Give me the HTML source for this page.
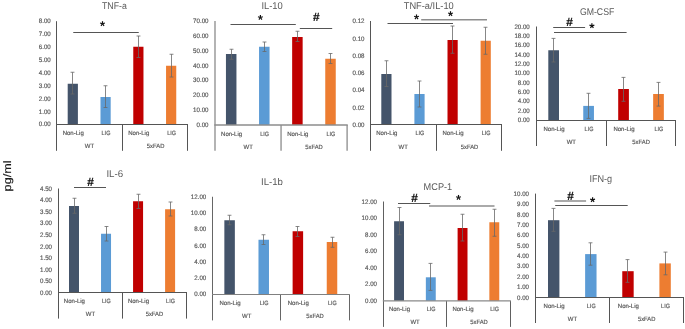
<!DOCTYPE html>
<html><head><meta charset="utf-8"><title>Cytokine panels</title>
<style>
html,body{margin:0;padding:0;background:#fff;}
body{width:685px;height:329px;overflow:hidden;font-family:"Liberation Sans",sans-serif;}
text{text-rendering:geometricPrecision;}
svg{display:block;font-family:"Liberation Sans",sans-serif;will-change:transform;}
</style></head><body>
<svg width="685" height="329" viewBox="0 0 685 329">
<text transform="translate(10.9 191.4) rotate(-90)" font-size="10.8" fill="#1a1a1a" textLength="31" lengthAdjust="spacingAndGlyphs" stroke="#1a1a1a" stroke-width="0.15">pg/ml</text>
<g><rect x="67.7" y="83.75" width="10.2" height="40.75" fill="#44546A"/>
<rect x="100.48" y="97" width="10.2" height="27.5" fill="#5B9BD5"/>
<rect x="133.27" y="46.75" width="10.2" height="77.75" fill="#C00000"/>
<rect x="166.05" y="65.75" width="10.2" height="58.75" fill="#ED7D31"/>
<path d="M72.5 72.25V94M70.55 72.25H74.45M70.55 94H74.45M105.5 85.75V107.5M103.55 85.75H107.45M103.55 107.5H107.45M138.5 36V57.5M136.55 36H140.45M136.55 57.5H140.45M171.5 54.25V77M169.55 54.25H173.45M169.55 77H173.45" stroke="#686868" stroke-width="0.8" fill="none"/>
<path d="M56.5 21.2V150.8M122.5 124.5V150.8M187.5 124.5V150.8" stroke="#555555" stroke-width="1.0" fill="none"/>
<path d="M56 124.5H188" stroke="#555555" stroke-width="1.0" fill="none"/>
<g font-size="6.4" text-anchor="end" fill="#595959" stroke="#595959" stroke-width="0.18"><text x="50.8" y="23.05" textLength="11.97" lengthAdjust="spacingAndGlyphs">8.00</text><text x="50.8" y="36" textLength="11.97" lengthAdjust="spacingAndGlyphs">7.00</text><text x="50.8" y="48.9" textLength="11.97" lengthAdjust="spacingAndGlyphs">6.00</text><text x="50.8" y="61.8" textLength="11.97" lengthAdjust="spacingAndGlyphs">5.00</text><text x="50.8" y="74.8" textLength="11.97" lengthAdjust="spacingAndGlyphs">4.00</text><text x="50.8" y="87.7" textLength="11.97" lengthAdjust="spacingAndGlyphs">3.00</text><text x="50.8" y="100.6" textLength="11.97" lengthAdjust="spacingAndGlyphs">2.00</text><text x="50.8" y="113.5" textLength="11.97" lengthAdjust="spacingAndGlyphs">1.00</text><text x="50.8" y="126.4" textLength="11.97" lengthAdjust="spacingAndGlyphs">0.00</text></g>
<g font-size="6.2" text-anchor="middle" fill="#595959" stroke="#595959" stroke-width="0.18"><text x="73.2" y="135.3" textLength="21.09" lengthAdjust="spacingAndGlyphs">Non-Lig</text><text x="105.98" y="135.3" textLength="8.8" lengthAdjust="spacingAndGlyphs">LIG</text><text x="138.77" y="135.3" textLength="21.09" lengthAdjust="spacingAndGlyphs">Non-Lig</text><text x="171.55" y="135.3" textLength="8.8" lengthAdjust="spacingAndGlyphs">LIG</text><text x="89.5" y="148.2" textLength="9.29" lengthAdjust="spacingAndGlyphs">WT</text><text x="155.6" y="148.2" textLength="17.5" lengthAdjust="spacingAndGlyphs">5xFAD</text></g>
<text x="114.4" y="9" font-size="9.8" text-anchor="middle" fill="#595959" textLength="24.8" lengthAdjust="spacingAndGlyphs" style="text-rendering:geometricPrecision">TNF-a</text>
<line x1="73.25" y1="32.5" x2="138.75" y2="32.5" stroke="#555555" stroke-width="1.0"/>
<g stroke="#111" stroke-width="1.2" stroke-linecap="butt"><line x1="102.5" y1="23.75" x2="102.5" y2="21.2"/><line x1="102.5" y1="23.75" x2="104.93" y2="22.96"/><line x1="102.5" y1="23.75" x2="104" y2="25.81"/><line x1="102.5" y1="23.75" x2="101" y2="25.81"/><line x1="102.5" y1="23.75" x2="100.07" y2="22.96"/></g></g>
<g><rect x="225.95" y="54" width="10.5" height="71" fill="#44546A"/>
<rect x="259.05" y="46.75" width="10.5" height="78.25" fill="#5B9BD5"/>
<rect x="292.15" y="37" width="10.5" height="88" fill="#C00000"/>
<rect x="325.25" y="58.75" width="10.5" height="66.25" fill="#ED7D31"/>
<path d="M231.5 49.25V59.25M229.55 49.25H233.45M229.55 59.25H233.45M264.5 42V51.5M262.55 42H266.45M262.55 51.5H266.45M297.5 31.25V41.5M295.55 31.25H299.45M295.55 41.5H299.45M330.5 53.5V63.5M328.55 53.5H332.45M328.55 63.5H332.45" stroke="#686868" stroke-width="0.8" fill="none"/>
<path d="M215 21V150.8M281.05 125V150.8M347.1 125V150.8" stroke="#8c8c8c" stroke-width="1.3" fill="none"/>
<path d="M214.35 125H347.75" stroke="#8c8c8c" stroke-width="1.3" fill="none"/>
<g font-size="6.4" text-anchor="end" fill="#595959" stroke="#595959" stroke-width="0.18"><text x="208.5" y="23.05" textLength="15.39" lengthAdjust="spacingAndGlyphs">70.00</text><text x="208.5" y="37.9" textLength="15.39" lengthAdjust="spacingAndGlyphs">60.00</text><text x="208.5" y="52.7" textLength="15.39" lengthAdjust="spacingAndGlyphs">50.00</text><text x="208.5" y="67.5" textLength="15.39" lengthAdjust="spacingAndGlyphs">40.00</text><text x="208.5" y="82.3" textLength="15.39" lengthAdjust="spacingAndGlyphs">30.00</text><text x="208.5" y="97.1" textLength="15.39" lengthAdjust="spacingAndGlyphs">20.00</text><text x="208.5" y="111.9" textLength="15.39" lengthAdjust="spacingAndGlyphs">10.00</text><text x="208.5" y="126.8" textLength="11.97" lengthAdjust="spacingAndGlyphs">0.00</text></g>
<g font-size="6.2" text-anchor="middle" fill="#595959" stroke="#595959" stroke-width="0.18"><text x="231.6" y="135.5" textLength="21.09" lengthAdjust="spacingAndGlyphs">Non-Lig</text><text x="264.7" y="135.5" textLength="8.8" lengthAdjust="spacingAndGlyphs">LIG</text><text x="297.8" y="135.5" textLength="21.09" lengthAdjust="spacingAndGlyphs">Non-Lig</text><text x="330.9" y="135.5" textLength="8.8" lengthAdjust="spacingAndGlyphs">LIG</text><text x="248.25" y="148.5" textLength="9.29" lengthAdjust="spacingAndGlyphs">WT</text><text x="314" y="148.5" textLength="17.5" lengthAdjust="spacingAndGlyphs">5xFAD</text></g>
<text x="272.1" y="9" font-size="9.8" text-anchor="middle" fill="#595959" textLength="21.4" lengthAdjust="spacingAndGlyphs" style="text-rendering:geometricPrecision">IL-10</text>
<line x1="230.5" y1="24.5" x2="295.8" y2="24.5" stroke="#555555" stroke-width="1.0"/>
<g stroke="#111" stroke-width="1.2" stroke-linecap="butt"><line x1="260.4" y1="17.5" x2="260.4" y2="14.95"/><line x1="260.4" y1="17.5" x2="262.83" y2="16.71"/><line x1="260.4" y1="17.5" x2="261.9" y2="19.56"/><line x1="260.4" y1="17.5" x2="258.9" y2="19.56"/><line x1="260.4" y1="17.5" x2="257.97" y2="16.71"/></g>
<line x1="299.8" y1="28.5" x2="332.2" y2="28.5" stroke="#555555" stroke-width="1.0"/>
<text x="316.3" y="21.45" font-size="11.8" font-weight="700" fill="#111" stroke="#111" stroke-width="0.2" text-anchor="middle">#</text></g>
<g><rect x="381.3" y="74" width="10.2" height="50.5" fill="#44546A"/>
<rect x="414.4" y="94" width="10.2" height="30.5" fill="#5B9BD5"/>
<rect x="447.5" y="40" width="10.2" height="84.5" fill="#C00000"/>
<rect x="480.6" y="40.75" width="10.2" height="83.75" fill="#ED7D31"/>
<path d="M386.5 60.75V86.5M384.55 60.75H388.45M384.55 86.5H388.45M419.5 81V107M417.55 81H421.45M417.55 107H421.45M452.5 26V53.25M450.55 26H454.45M450.55 53.25H454.45M485.5 27.25V54.25M483.55 27.25H487.45M483.55 54.25H487.45" stroke="#686868" stroke-width="0.8" fill="none"/>
<path d="M370.5 21V150.8M436.5 124.7V150.8M501.5 124.7V150.8" stroke="#555555" stroke-width="1.0" fill="none"/>
<path d="M370 124.5H502" stroke="#555555" stroke-width="1.0" fill="none"/>
<g font-size="6.4" text-anchor="end" fill="#595959" stroke="#595959" stroke-width="0.18"><text x="364.5" y="23.3" textLength="11.97" lengthAdjust="spacingAndGlyphs">0.12</text><text x="364.5" y="40.5" textLength="11.97" lengthAdjust="spacingAndGlyphs">0.10</text><text x="364.5" y="57.8" textLength="11.97" lengthAdjust="spacingAndGlyphs">0.08</text><text x="364.5" y="75" textLength="11.97" lengthAdjust="spacingAndGlyphs">0.06</text><text x="364.5" y="92.3" textLength="11.97" lengthAdjust="spacingAndGlyphs">0.04</text><text x="364.5" y="109.5" textLength="11.97" lengthAdjust="spacingAndGlyphs">0.02</text><text x="364.5" y="126.8" textLength="11.97" lengthAdjust="spacingAndGlyphs">0.00</text></g>
<g font-size="6.2" text-anchor="middle" fill="#595959" stroke="#595959" stroke-width="0.18"><text x="386.8" y="135.3" textLength="21.09" lengthAdjust="spacingAndGlyphs">Non-Lig</text><text x="419.9" y="135.3" textLength="8.8" lengthAdjust="spacingAndGlyphs">LIG</text><text x="453" y="135.3" textLength="21.09" lengthAdjust="spacingAndGlyphs">Non-Lig</text><text x="486.1" y="135.3" textLength="8.8" lengthAdjust="spacingAndGlyphs">LIG</text><text x="403.25" y="148.5" textLength="9.29" lengthAdjust="spacingAndGlyphs">WT</text><text x="469.5" y="148.5" textLength="17.5" lengthAdjust="spacingAndGlyphs">5xFAD</text></g>
<text x="428.75" y="9" font-size="9.8" text-anchor="middle" fill="#595959" textLength="50" lengthAdjust="spacingAndGlyphs" style="text-rendering:geometricPrecision">TNF-a/IL-10</text>
<line x1="387.5" y1="23.5" x2="453" y2="23.5" stroke="#555555" stroke-width="1.0"/>
<g stroke="#111" stroke-width="1.2" stroke-linecap="butt"><line x1="416.5" y1="17" x2="416.5" y2="14.45"/><line x1="416.5" y1="17" x2="418.93" y2="16.21"/><line x1="416.5" y1="17" x2="418" y2="19.06"/><line x1="416.5" y1="17" x2="415" y2="19.06"/><line x1="416.5" y1="17" x2="414.07" y2="16.21"/></g>
<line x1="421.2" y1="19.75" x2="487" y2="19.75" stroke="#8e8e8e" stroke-width="1.5"/>
<g stroke="#111" stroke-width="1.2" stroke-linecap="butt"><line x1="450.5" y1="13.75" x2="450.5" y2="11.2"/><line x1="450.5" y1="13.75" x2="452.93" y2="12.96"/><line x1="450.5" y1="13.75" x2="452" y2="15.81"/><line x1="450.5" y1="13.75" x2="449" y2="15.81"/><line x1="450.5" y1="13.75" x2="448.07" y2="12.96"/></g></g>
<g><rect x="548.3" y="50.25" width="10.7" height="70.25" fill="#44546A"/>
<rect x="583.25" y="105.9" width="10.7" height="14.6" fill="#5B9BD5"/>
<rect x="618.2" y="89" width="10.7" height="31.5" fill="#C00000"/>
<rect x="653.15" y="94" width="10.7" height="26.5" fill="#ED7D31"/>
<path d="M553.5 38.4V62M551.55 38.4H555.45M551.55 62H555.45M588.5 93.3V118.4M586.55 93.3H590.45M586.55 118.4H590.45M623.5 77.4V101.3M621.55 77.4H625.45M621.55 101.3H625.45M658.5 82.4V106.1M656.55 82.4H660.45M656.55 106.1H660.45" stroke="#686868" stroke-width="0.8" fill="none"/>
<path d="M536.5 26.5V146M606.5 120.4V146M675.5 120.4V146" stroke="#555555" stroke-width="1.0" fill="none"/>
<path d="M536 120.5H676" stroke="#555555" stroke-width="1.0" fill="none"/>
<g font-size="6.4" text-anchor="end" fill="#595959" stroke="#595959" stroke-width="0.18"><text x="529.8" y="28.7" textLength="15.39" lengthAdjust="spacingAndGlyphs">20.00</text><text x="529.8" y="38" textLength="15.39" lengthAdjust="spacingAndGlyphs">18.00</text><text x="529.8" y="47.4" textLength="15.39" lengthAdjust="spacingAndGlyphs">16.00</text><text x="529.8" y="56.7" textLength="15.39" lengthAdjust="spacingAndGlyphs">14.00</text><text x="529.8" y="66" textLength="15.39" lengthAdjust="spacingAndGlyphs">12.00</text><text x="529.8" y="75.4" textLength="15.39" lengthAdjust="spacingAndGlyphs">10.00</text><text x="529.8" y="84.7" textLength="11.97" lengthAdjust="spacingAndGlyphs">8.00</text><text x="529.8" y="94" textLength="11.97" lengthAdjust="spacingAndGlyphs">6.00</text><text x="529.8" y="103.4" textLength="11.97" lengthAdjust="spacingAndGlyphs">4.00</text><text x="529.8" y="112.7" textLength="11.97" lengthAdjust="spacingAndGlyphs">2.00</text><text x="529.8" y="122" textLength="11.97" lengthAdjust="spacingAndGlyphs">0.00</text></g>
<g font-size="6.2" text-anchor="middle" fill="#595959" stroke="#595959" stroke-width="0.18"><text x="554.05" y="130.7" textLength="21.09" lengthAdjust="spacingAndGlyphs">Non-Lig</text><text x="589" y="130.7" textLength="8.8" lengthAdjust="spacingAndGlyphs">LIG</text><text x="623.95" y="130.7" textLength="21.09" lengthAdjust="spacingAndGlyphs">Non-Lig</text><text x="658.9" y="130.7" textLength="8.8" lengthAdjust="spacingAndGlyphs">LIG</text><text x="571.3" y="143.8" textLength="9.29" lengthAdjust="spacingAndGlyphs">WT</text><text x="641.1" y="143.8" textLength="17.5" lengthAdjust="spacingAndGlyphs">5xFAD</text></g>
<text x="597.1" y="14.8" font-size="9.8" text-anchor="middle" fill="#595959" textLength="34.4" lengthAdjust="spacingAndGlyphs" style="text-rendering:geometricPrecision">GM-CSF</text>
<line x1="553.2" y1="27.5" x2="585.1" y2="27.5" stroke="#555555" stroke-width="1.0"/>
<text x="569.5" y="26.15" font-size="11.8" font-weight="700" fill="#111" stroke="#111" stroke-width="0.2" text-anchor="middle">#</text>
<line x1="554" y1="32.5" x2="626.6" y2="32.5" stroke="#555555" stroke-width="1.0"/>
<g stroke="#111" stroke-width="1.2" stroke-linecap="butt"><line x1="591.9" y1="25.9" x2="591.9" y2="23.35"/><line x1="591.9" y1="25.9" x2="594.33" y2="25.11"/><line x1="591.9" y1="25.9" x2="593.4" y2="27.96"/><line x1="591.9" y1="25.9" x2="590.4" y2="27.96"/><line x1="591.9" y1="25.9" x2="589.47" y2="25.11"/></g></g>
<g><rect x="69" y="206" width="10" height="86.5" fill="#44546A"/>
<rect x="101.03" y="233.75" width="10" height="58.75" fill="#5B9BD5"/>
<rect x="133.07" y="201.25" width="10" height="91.25" fill="#C00000"/>
<rect x="165.1" y="209.25" width="10" height="83.25" fill="#ED7D31"/>
<path d="M74.5 198.25V213.25M72.55 198.25H76.45M72.55 213.25H76.45M106.5 226.5V241M104.55 226.5H108.45M104.55 241H108.45M138.5 194.25V208.5M136.55 194.25H140.45M136.55 208.5H140.45M170.5 202V216M168.55 202H172.45M168.55 216H172.45" stroke="#686868" stroke-width="0.8" fill="none"/>
<path d="M58.5 188.5V318.6M122.5 292.45V318.6M186.5 292.45V318.6" stroke="#555555" stroke-width="1.0" fill="none"/>
<path d="M58 292.5H187" stroke="#555555" stroke-width="1.0" fill="none"/>
<g font-size="6.4" text-anchor="end" fill="#595959" stroke="#595959" stroke-width="0.18"><text x="52" y="190.8" textLength="11.97" lengthAdjust="spacingAndGlyphs">4.50</text><text x="52" y="202.35" textLength="11.97" lengthAdjust="spacingAndGlyphs">4.00</text><text x="52" y="213.9" textLength="11.97" lengthAdjust="spacingAndGlyphs">3.50</text><text x="52" y="225.45" textLength="11.97" lengthAdjust="spacingAndGlyphs">3.00</text><text x="52" y="237" textLength="11.97" lengthAdjust="spacingAndGlyphs">2.50</text><text x="52" y="248.55" textLength="11.97" lengthAdjust="spacingAndGlyphs">2.00</text><text x="52" y="260.1" textLength="11.97" lengthAdjust="spacingAndGlyphs">1.50</text><text x="52" y="271.65" textLength="11.97" lengthAdjust="spacingAndGlyphs">1.00</text><text x="52" y="283.2" textLength="11.97" lengthAdjust="spacingAndGlyphs">0.50</text><text x="52" y="294.7" textLength="11.97" lengthAdjust="spacingAndGlyphs">0.00</text></g>
<g font-size="6.2" text-anchor="middle" fill="#595959" stroke="#595959" stroke-width="0.18"><text x="74.4" y="302.7" textLength="21.09" lengthAdjust="spacingAndGlyphs">Non-Lig</text><text x="106.43" y="302.7" textLength="8.8" lengthAdjust="spacingAndGlyphs">LIG</text><text x="138.47" y="302.7" textLength="21.09" lengthAdjust="spacingAndGlyphs">Non-Lig</text><text x="170.5" y="302.7" textLength="8.8" lengthAdjust="spacingAndGlyphs">LIG</text><text x="90.5" y="315.8" textLength="9.29" lengthAdjust="spacingAndGlyphs">WT</text><text x="154.4" y="315.8" textLength="17.5" lengthAdjust="spacingAndGlyphs">5xFAD</text></g>
<text x="114.8" y="176.6" font-size="9.8" text-anchor="middle" fill="#595959" textLength="16.8" lengthAdjust="spacingAndGlyphs" style="text-rendering:geometricPrecision">IL-6</text>
<line x1="74" y1="187.5" x2="106" y2="187.5" stroke="#555555" stroke-width="1.0"/>
<text x="90.5" y="186.3" font-size="11.8" font-weight="700" fill="#111" stroke="#111" stroke-width="0.2" text-anchor="middle">#</text></g>
<g><rect x="224.35" y="220.25" width="10.5" height="74.25" fill="#44546A"/>
<rect x="258.48" y="239.75" width="10.5" height="54.75" fill="#5B9BD5"/>
<rect x="292.62" y="231.25" width="10.5" height="63.25" fill="#C00000"/>
<rect x="326.75" y="242" width="10.5" height="52.5" fill="#ED7D31"/>
<path d="M229.5 215.25V224.75M227.55 215.25H231.45M227.55 224.75H231.45M263.5 234.75V244.5M261.55 234.75H265.45M261.55 244.5H265.45M297.5 226.5V236.5M295.55 226.5H299.45M295.55 236.5H299.45M332.5 237.25V247.3M330.55 237.25H334.45M330.55 247.3H334.45" stroke="#686868" stroke-width="0.8" fill="none"/>
<path d="M212.5 196.75V320.4M280.5 294.5V320.4M349.5 294.5V320.4" stroke="#666666" stroke-width="1.0" fill="none"/>
<path d="M212.05 294.5H349.8" stroke="#808080" stroke-width="1.0" fill="none"/>
<g font-size="6.4" text-anchor="end" fill="#595959" stroke="#595959" stroke-width="0.18"><text x="206.25" y="199.05" textLength="15.39" lengthAdjust="spacingAndGlyphs">12.00</text><text x="206.25" y="215.25" textLength="15.39" lengthAdjust="spacingAndGlyphs">10.00</text><text x="206.25" y="231.45" textLength="11.97" lengthAdjust="spacingAndGlyphs">8.00</text><text x="206.25" y="247.65" textLength="11.97" lengthAdjust="spacingAndGlyphs">6.00</text><text x="206.25" y="263.85" textLength="11.97" lengthAdjust="spacingAndGlyphs">4.00</text><text x="206.25" y="280.05" textLength="11.97" lengthAdjust="spacingAndGlyphs">2.00</text><text x="206.25" y="296.2" textLength="11.97" lengthAdjust="spacingAndGlyphs">0.00</text></g>
<g font-size="6.2" text-anchor="middle" fill="#595959" stroke="#595959" stroke-width="0.18"><text x="230" y="305.3" textLength="21.09" lengthAdjust="spacingAndGlyphs">Non-Lig</text><text x="264.13" y="305.3" textLength="8.8" lengthAdjust="spacingAndGlyphs">LIG</text><text x="298.27" y="305.3" textLength="21.09" lengthAdjust="spacingAndGlyphs">Non-Lig</text><text x="332.4" y="305.3" textLength="8.8" lengthAdjust="spacingAndGlyphs">LIG</text><text x="246.7" y="317.6" textLength="9.29" lengthAdjust="spacingAndGlyphs">WT</text><text x="315" y="317.6" textLength="17.5" lengthAdjust="spacingAndGlyphs">5xFAD</text></g>
<text x="272" y="184.8" font-size="9.8" text-anchor="middle" fill="#595959" textLength="22" lengthAdjust="spacingAndGlyphs" style="text-rendering:geometricPrecision">IL-1b</text></g>
<g><rect x="394.1" y="221.25" width="9.9" height="79.6" fill="#44546A"/>
<rect x="425.85" y="277.3" width="9.9" height="23.55" fill="#5B9BD5"/>
<rect x="457.6" y="228" width="9.9" height="72.85" fill="#C00000"/>
<rect x="489.35" y="222.25" width="9.9" height="78.6" fill="#ED7D31"/>
<path d="M399.5 207.5V234.75M397.55 207.5H401.45M397.55 234.75H401.45M430.5 263.4V290.4M428.55 263.4H432.45M428.55 290.4H432.45M462.5 214.25V241M460.55 214.25H464.45M460.55 241H464.45M494.5 209.25V236.25M492.55 209.25H496.45M492.55 236.25H496.45" stroke="#686868" stroke-width="0.8" fill="none"/>
<path d="M383.5 201.5V326.9M446.5 300.85V326.9M510.5 300.85V326.9" stroke="#606060" stroke-width="1.0" fill="none"/>
<path d="M382.8 300.85H510.85" stroke="#8a8a8a" stroke-width="1.2" fill="none"/>
<g font-size="6.4" text-anchor="end" fill="#595959" stroke="#595959" stroke-width="0.18"><text x="377" y="203.8" textLength="15.39" lengthAdjust="spacingAndGlyphs">12.00</text><text x="377" y="220.3" textLength="15.39" lengthAdjust="spacingAndGlyphs">10.00</text><text x="377" y="236.8" textLength="11.97" lengthAdjust="spacingAndGlyphs">8.00</text><text x="377" y="253.3" textLength="11.97" lengthAdjust="spacingAndGlyphs">6.00</text><text x="377" y="269.8" textLength="11.97" lengthAdjust="spacingAndGlyphs">4.00</text><text x="377" y="286.3" textLength="11.97" lengthAdjust="spacingAndGlyphs">2.00</text><text x="377" y="302.8" textLength="11.97" lengthAdjust="spacingAndGlyphs">0.00</text></g>
<g font-size="6.2" text-anchor="middle" fill="#595959" stroke="#595959" stroke-width="0.18"><text x="399.45" y="311" textLength="21.09" lengthAdjust="spacingAndGlyphs">Non-Lig</text><text x="431.2" y="311" textLength="8.8" lengthAdjust="spacingAndGlyphs">LIG</text><text x="462.95" y="311" textLength="21.09" lengthAdjust="spacingAndGlyphs">Non-Lig</text><text x="494.7" y="311" textLength="8.8" lengthAdjust="spacingAndGlyphs">LIG</text><text x="415.1" y="323.7" textLength="9.29" lengthAdjust="spacingAndGlyphs">WT</text><text x="479" y="323.7" textLength="17.5" lengthAdjust="spacingAndGlyphs">5xFAD</text></g>
<text x="437.9" y="189.7" font-size="9.8" text-anchor="middle" fill="#595959" textLength="28.6" lengthAdjust="spacingAndGlyphs" style="text-rendering:geometricPrecision">MCP-1</text>
<line x1="398" y1="203.5" x2="430.25" y2="203.5" stroke="#555555" stroke-width="1.0"/>
<text x="414.5" y="201.8" font-size="11.8" font-weight="700" fill="#111" stroke="#111" stroke-width="0.2" text-anchor="middle">#</text>
<line x1="429" y1="206" x2="494.5" y2="206" stroke="#8e8e8e" stroke-width="1.5"/>
<g stroke="#111" stroke-width="1.2" stroke-linecap="butt"><line x1="458.5" y1="197.5" x2="458.5" y2="194.95"/><line x1="458.5" y1="197.5" x2="460.93" y2="196.71"/><line x1="458.5" y1="197.5" x2="460" y2="199.56"/><line x1="458.5" y1="197.5" x2="457" y2="199.56"/><line x1="458.5" y1="197.5" x2="456.07" y2="196.71"/></g></g>
<g><rect x="548" y="220.2" width="11.4" height="77.3" fill="#44546A"/>
<rect x="585.13" y="254.1" width="11.4" height="43.4" fill="#5B9BD5"/>
<rect x="622.27" y="271.2" width="11.4" height="26.3" fill="#C00000"/>
<rect x="659.4" y="263.4" width="11.4" height="34.1" fill="#ED7D31"/>
<path d="M553.5 208.4V231.3M551.55 208.4H555.45M551.55 231.3H555.45M590.5 242.8V265.2M588.55 242.8H592.45M588.55 265.2H592.45M627.5 259.6V282.3M625.55 259.6H629.45M625.55 282.3H629.45M665.5 252.1V274.8M663.55 252.1H667.45M663.55 274.8H667.45" stroke="#686868" stroke-width="0.8" fill="none"/>
<path d="M535.5 193.6V323M609.5 297.4V323M683.5 297.4V323" stroke="#555555" stroke-width="1.0" fill="none"/>
<path d="M535 297.5H684" stroke="#555555" stroke-width="1.0" fill="none"/>
<g font-size="6.4" text-anchor="end" fill="#595959" stroke="#595959" stroke-width="0.18"><text x="529" y="195.9" textLength="15.39" lengthAdjust="spacingAndGlyphs">10.00</text><text x="529" y="206.26" textLength="11.97" lengthAdjust="spacingAndGlyphs">9.00</text><text x="529" y="216.6" textLength="11.97" lengthAdjust="spacingAndGlyphs">8.00</text><text x="529" y="227" textLength="11.97" lengthAdjust="spacingAndGlyphs">7.00</text><text x="529" y="237.3" textLength="11.97" lengthAdjust="spacingAndGlyphs">6.00</text><text x="529" y="247.7" textLength="11.97" lengthAdjust="spacingAndGlyphs">5.00</text><text x="529" y="258.1" textLength="11.97" lengthAdjust="spacingAndGlyphs">4.00</text><text x="529" y="268.4" textLength="11.97" lengthAdjust="spacingAndGlyphs">3.00</text><text x="529" y="278.8" textLength="11.97" lengthAdjust="spacingAndGlyphs">2.00</text><text x="529" y="289.1" textLength="11.97" lengthAdjust="spacingAndGlyphs">1.00</text><text x="529" y="299.5" textLength="11.97" lengthAdjust="spacingAndGlyphs">0.00</text></g>
<g font-size="6.2" text-anchor="middle" fill="#595959" stroke="#595959" stroke-width="0.18"><text x="554.1" y="307.8" textLength="21.09" lengthAdjust="spacingAndGlyphs">Non-Lig</text><text x="591.23" y="307.8" textLength="8.8" lengthAdjust="spacingAndGlyphs">LIG</text><text x="628.37" y="307.8" textLength="21.09" lengthAdjust="spacingAndGlyphs">Non-Lig</text><text x="665.5" y="307.8" textLength="8.8" lengthAdjust="spacingAndGlyphs">LIG</text><text x="572.5" y="321.1" textLength="9.29" lengthAdjust="spacingAndGlyphs">WT</text><text x="646.7" y="321.1" textLength="17.5" lengthAdjust="spacingAndGlyphs">5xFAD</text></g>
<text x="600.8" y="181.6" font-size="9.8" text-anchor="middle" fill="#595959" textLength="22.8" lengthAdjust="spacingAndGlyphs" style="text-rendering:geometricPrecision">IFN-g</text>
<line x1="554.4" y1="200.9" x2="586.1" y2="200.9" stroke="#8e8e8e" stroke-width="1.5"/>
<text x="570.5" y="199.65" font-size="11.8" font-weight="700" fill="#111" stroke="#111" stroke-width="0.2" text-anchor="middle">#</text>
<line x1="555.2" y1="205.5" x2="627.7" y2="205.5" stroke="#555555" stroke-width="1.0"/>
<g stroke="#111" stroke-width="1.2" stroke-linecap="butt"><line x1="592.6" y1="199.9" x2="592.6" y2="197.35"/><line x1="592.6" y1="199.9" x2="595.03" y2="199.11"/><line x1="592.6" y1="199.9" x2="594.1" y2="201.96"/><line x1="592.6" y1="199.9" x2="591.1" y2="201.96"/><line x1="592.6" y1="199.9" x2="590.17" y2="199.11"/></g></g>
</svg>
</body></html>
